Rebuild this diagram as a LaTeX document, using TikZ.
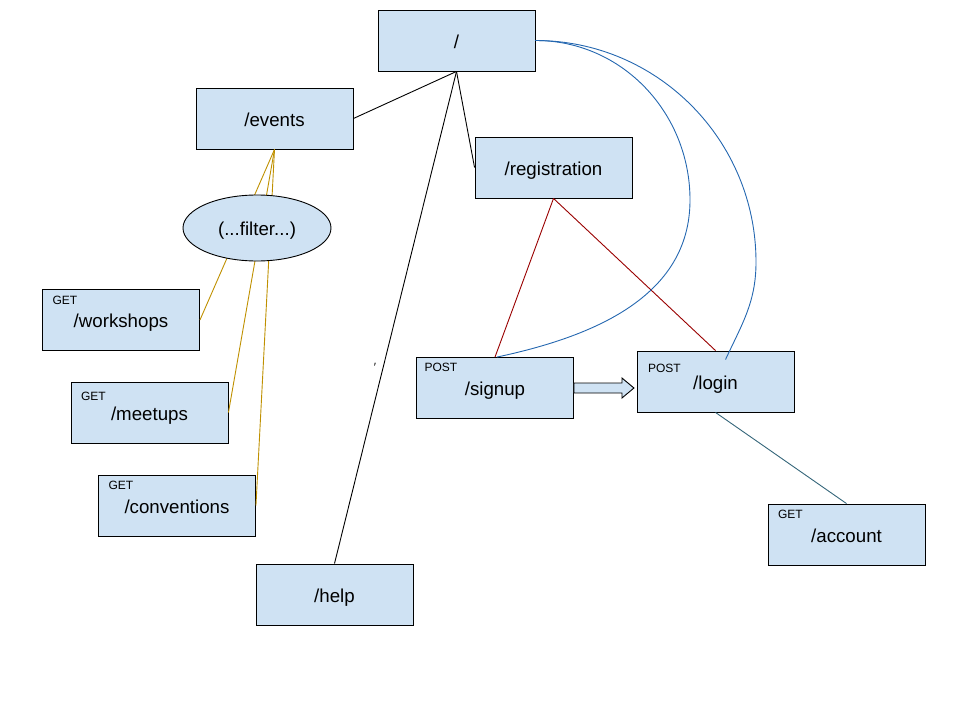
\documentclass[tikz,border=0pt]{standalone}
\usepackage{fontspec}
\setmainfont{Liberation Sans}
\usetikzlibrary{arrows.meta,positioning,calc,shapes.geometric}
\definecolor{pagefill}{HTML}{CFE2F3}
\definecolor{filtergold}{HTML}{BF9000}
\definecolor{regred}{HTML}{990000}
\definecolor{authblue}{HTML}{2467B0}
\definecolor{acctteal}{HTML}{35667A}

\begin{document}
\begin{tikzpicture}[x=1pt, y=-1pt, line width=0.9pt,
  page/.style={draw, fill=pagefill, minimum width=157pt, minimum height=61pt, inner sep=0pt, text height=17pt, text depth=1.5pt, font=\fontsize{18.7}{22}\selectfont},
  verb/.style={anchor=north west, inner sep=0pt, font=\fontsize{12}{14}\selectfont}]
\useasboundingbox (0,0) rectangle (960,720);
\node[page] (root) at (456.5,40.5) {/};
\node[page] (events) at (274.5,118.5) {/events};
\node[page] (reg) at (553.5,167.5) {/registration};
\node[page] (workshops) at (121,320) {/workshops};
\node[page] (meetups) at (149.5,412.5) {/meetups};
\node[page] (conventions) at (177,505.5) {/conventions};
\node[page] (help) at (334.5,594.5) {/help};
\node[page] (signup) at (495,388) {/signup};
\node[page] (login) at (715.5,381.5) {/login};
\node[page] (account) at (846.5,534.5) {/account};
\node[verb] (wsget) at ($(workshops.north west)+(10,7)$) {GET};
\node[verb] (mtget) at ($(meetups.north west)+(10,10)$) {GET};
\node[verb] (cvget) at ($(conventions.north west)+(10,6)$) {GET};
\node[verb] (acget) at ($(account.north west)+(10,6)$) {GET};
\node[verb] (supost) at ($(signup.north west)+(8,6)$) {POST};
\node[verb] (lgpost) at ($(login.north west)+(11,13)$) {POST};
\node[inner sep=0pt, font=\fontsize{12}{14}\selectfont] (tick) at (375,367) {′};
\draw (root.south) -- (events.east);
\draw (root.south) -- (reg.west);
\draw (root.south) -- (help.north);
\draw[filtergold] (events.south) -- (workshops.east);
\draw[filtergold] (events.south) -- (meetups.east);
\draw[filtergold] (events.south) -- (conventions.east);
\draw[regred] (reg.south) -- (signup.north);
\draw[regred] (reg.south) -- (login.north);
\draw[acctteal] (login.south) -- (account.north);
\coordinate (sutop) at ($(signup.north)+(2,0)$);
\coordinate (lgtop) at ($(login.north)+(10,9)$);
\draw[authblue] (root.east) to[out=0, in=90] (690,200) to[out=-90, in=12] (sutop);
\draw[authblue] (root.east) to[out=0, in=90] (756,262) to[out=-90, in=65] (lgtop);
\draw[fill=pagefill] ($(signup.east)+(0,-5)$) -- ++(48,0) -- ++(0,-5) -- ++(12,10) -- ++(-12,10) -- ++(0,-5) -- ++(-48,0) -- cycle;
\node[draw, ellipse, fill=pagefill, minimum width=148pt, minimum height=66pt, inner sep=0pt, text height=17pt, text depth=1.5pt, font=\fontsize{18.7}{22}\selectfont] (filter) at (257,228) {(...filter...)};
\end{tikzpicture}
\end{document}
